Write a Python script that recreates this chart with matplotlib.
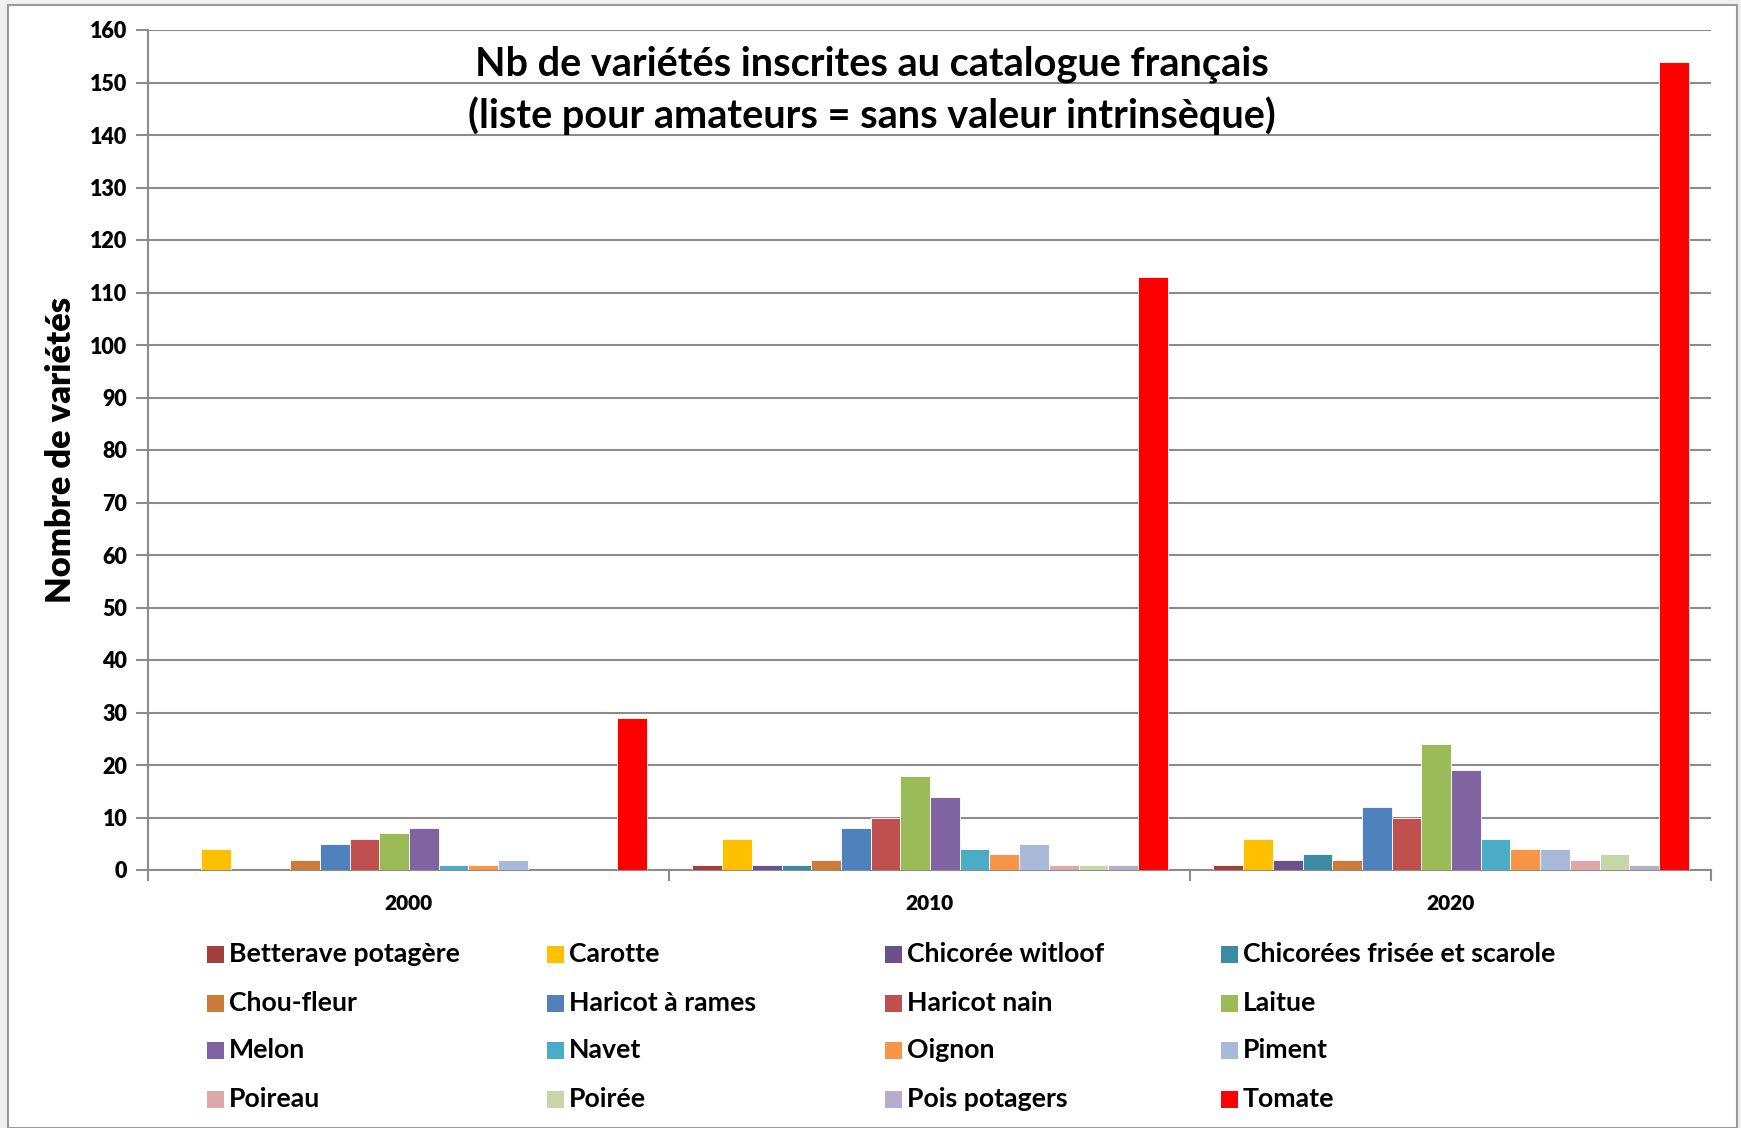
import matplotlib
matplotlib.use("Agg")
import matplotlib.pyplot as plt
import numpy as np
from matplotlib.patches import Rectangle

years = ["2000", "2010", "2020"]
series = ["Betterave potagère", "Carotte", "Chicorée witloof", "Chicorées frisée et scarole",
          "Chou-fleur", "Haricot à rames", "Haricot nain", "Laitue",
          "Melon", "Navet", "Oignon", "Piment",
          "Poireau", "Poirée", "Pois potagers", "Tomate"]
v2000 = [0, 4, 0, 0, 2, 5, 6, 7, 8, 1, 1, 2, 0, 0, 0, 29]
v2010 = [1, 6, 1, 1, 2, 8, 10, 18, 14, 4, 3, 5, 1, 1, 1, 113]
v2020 = [1, 6, 2, 3, 2, 12, 10, 24, 19, 6, 4, 4, 2, 3, 1, 154]
colors = ["#A0403C", "#FFC000", "#6B5089", "#3B8BA3",
          "#CD7B3A", "#4F81BD", "#C0504D", "#9BBB59",
          "#8064A2", "#4BACC6", "#F79646", "#A9B9D9",
          "#DDA9A8", "#C5D6A8", "#B9ABCE", "#FF0000"]

plt.rcParams['font.family'] = ['Lato', 'DejaVu Sans']
W, H = 1741, 1128
fig = plt.figure(figsize=(W/100, H/100), dpi=100)
fig.patch.set_facecolor("#F0F0F0")
fig.patches.append(Rectangle((8/W, 0), (1737-8)/W, 1-5/H, transform=fig.transFigure,
                             facecolor="white", edgecolor="#9A9A9A", linewidth=1.5, zorder=-10))

ax = fig.add_axes([148/W, 1-870/H, (1711-148)/W, (870-30)/H])
ax.set_zorder(2)
ax.set_facecolor("none")
data = np.array([v2000, v2010, v2020])
n = len(series)
bw = 0.057
x = np.arange(len(years))
for i in range(n):
    offs = (i - (n-1)/2) * bw + 0.001
    ax.bar(x + offs, data[:, i], width=bw, color=colors[i], edgecolor="white", linewidth=0.6, zorder=3)

ax.set_xlim(-0.5, 2.5)
ax.set_ylim(0, 160)
ax.set_yticks(np.arange(0, 161, 10))
ax.yaxis.grid(True, color="#8C8C8C", linewidth=1.5, zorder=0)
ax.set_axisbelow(True)
ax.set_xticks(x)
ax.set_xticklabels(years, fontsize=15, fontweight="heavy")
ax.set_xticks([-0.5, 0.5, 1.5, 2.5], minor=True)
ax.tick_params(axis="x", which="major", length=0, pad=17)
ax.tick_params(axis="x", which="minor", length=8, color="#8C8C8C", width=1.5)
ax.tick_params(axis="y", length=9, color="#8C8C8C", width=1.5, pad=6, labelsize=15.5)
for lab in ax.get_yticklabels():
    lab.set_fontweight("heavy")
for s in ["top", "right"]:
    ax.spines[s].set_visible(False)
ax.spines["left"].set_color("#8C8C8C")
ax.spines["left"].set_linewidth(1.5)
ax.spines["bottom"].set_color("#8C8C8C")
ax.spines["bottom"].set_linewidth(1.5)

fig.text(61/W, 1-450/H, "Nombre de variétés", rotation=90, ha="center", va="center",
         fontsize=24.8, fontweight="heavy")

fig.text(872/W, 1-64/H, "Nb de variétés inscrites au catalogue français", ha="center", va="center",
         fontsize=28.5, fontweight="bold")
fig.text(872/W, 1-116/H, "(liste pour amateurs = sans valeur intrinsèque)", ha="center", va="center",
         fontsize=28.5, fontweight="bold")

colx = [207, 547, 885, 1221]
rowy = [954, 1003, 1050, 1099]
sq = 17
for i, name in enumerate(series):
    r, c = divmod(i, 4)
    fig.patches.append(Rectangle((colx[c]/W, (H-rowy[r]-sq/2)/H), sq/W, sq/H,
                                 transform=fig.transFigure, facecolor=colors[i], edgecolor="none"))
    fig.text((colx[c]+22)/W, 1-rowy[r]/H, name, ha="left", va="center", fontsize=19.2, fontweight="bold")

fig.savefig("out.png", dpi=100, facecolor=fig.get_facecolor())
